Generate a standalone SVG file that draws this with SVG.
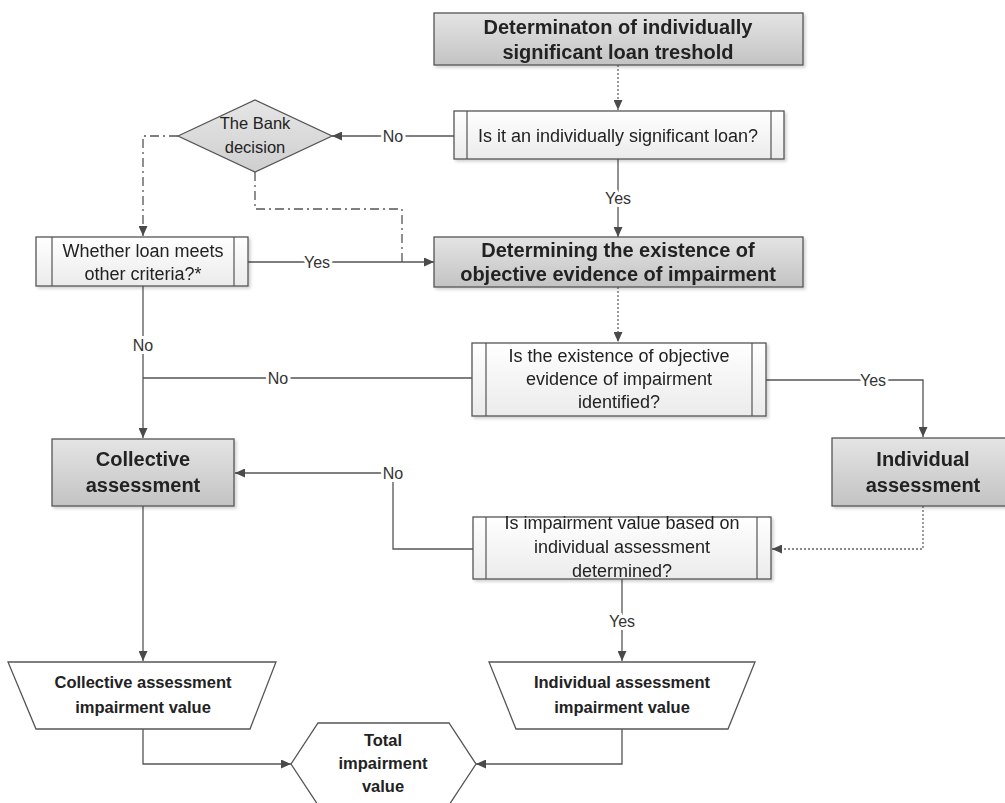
<svg xmlns="http://www.w3.org/2000/svg" width="1005" height="803" viewBox="0 0 1005 803">
<defs>
<linearGradient id="gGray" x1="0" y1="0" x2="0" y2="1"><stop offset="0" stop-color="#e4e4e4"/><stop offset="1" stop-color="#c3c3c3"/></linearGradient>
<linearGradient id="gWhite" x1="0" y1="0" x2="0" y2="1"><stop offset="0" stop-color="#ffffff"/><stop offset="1" stop-color="#ebebeb"/></linearGradient>
<linearGradient id="gDia" x1="0" y1="0" x2="0" y2="1"><stop offset="0" stop-color="#e6e6e6"/><stop offset="1" stop-color="#cfcfcf"/></linearGradient>
<filter id="sh" x="-5%" y="-10%" width="112%" height="130%"><feDropShadow dx="2" dy="2" stdDeviation="1.5" flood-color="#000" flood-opacity="0.18"/></filter>
<marker id="arr" markerUnits="userSpaceOnUse" markerWidth="11" markerHeight="9" refX="10" refY="4.5" orient="auto"><path d="M0,0 L10,4.5 L0,9 z" fill="#4a4a4a"/></marker>
</defs>
<style>
.box{stroke:#555;stroke-width:1.3}
.gray{fill:url(#gGray)}
.proc{fill:url(#gWhite)}
.inner{stroke:#555;stroke-width:1.2;fill:none}
.plain{fill:#fff;stroke:#555;stroke-width:1.3}
.t{font-family:"Liberation Sans",Arial,sans-serif;fill:#222;text-anchor:middle}
.b20{font-size:20px;font-weight:bold}
.b17{font-size:16.5px;font-weight:bold}
.r18{font-size:18px}
.r16{font-size:16.5px}
.c{fill:none;stroke:#555;stroke-width:1.3}
.dot{stroke-dasharray:2,2;stroke:#666}
.dd{stroke-dasharray:9,4,2,4}
.lab{font-family:"Liberation Sans",Arial,sans-serif;font-size:16px;fill:#333;text-anchor:middle;stroke:#fff;stroke-width:6;paint-order:stroke;stroke-linejoin:round}
</style>
<g id="connectors">
<path class="c dot" d="M618,65 V110" marker-end="url(#arr)"/>
<path class="c" d="M454,136 H332" marker-end="url(#arr)"/>
<path class="c" d="M618,159 V237" marker-end="url(#arr)"/>
<path class="c dd" d="M178,136 H143 V236" marker-end="url(#arr)"/>
<path class="c dd" d="M255,172 V209 H402 V262"/>
<path class="c" d="M248,262 H434" marker-end="url(#arr)"/>
<path class="c dot" d="M618,287 V342" marker-end="url(#arr)"/>
<path class="c" d="M143,286 V438" marker-end="url(#arr)"/>
<path class="c" d="M472,378 H143"/>
<path class="c" d="M766,380 H923 V437" marker-end="url(#arr)"/>
<path class="c dot" d="M923,506 V549 H772" marker-end="url(#arr)"/>
<path class="c" d="M473,549 H393 V473 H235" marker-end="url(#arr)"/>
<path class="c" d="M622,579 V661" marker-end="url(#arr)"/>
<path class="c" d="M143,506 V661" marker-end="url(#arr)"/>
<path class="c" d="M143,729 V764 H291" marker-end="url(#arr)"/>
<path class="c" d="M622,729 V764 H476" marker-end="url(#arr)"/>
<text class="lab" x="393" y="142">No</text>
<text class="lab" x="618" y="204">Yes</text>
<text class="lab" x="317" y="268">Yes</text>
<text class="lab" x="143" y="351">No</text>
<text class="lab" x="278" y="384">No</text>
<text class="lab" x="873" y="386">Yes</text>
<text class="lab" x="393" y="479">No</text>
<text class="lab" x="622" y="627">Yes</text>
</g>
<g id="n-threshold" filter="url(#sh)">
<rect class="box gray" x="434" y="13" width="369" height="52"/>
<text class="t b20" x="618" y="34">Determinaton of individually</text>
<text class="t b20" x="618" y="59">significant loan treshold</text>
</g>
<g id="n-significant" filter="url(#sh)">
<rect class="box proc" x="454" y="111" width="330" height="48"/>
<path class="inner" d="M467,111 V159 M771,111 V159"/>
<text class="t r18" x="618" y="142">Is it an individually significant loan?</text>
</g>
<g id="n-bank">
<polygon class="box" fill="url(#gDia)" points="178,136 255,100 332,136 255,172"/>
<text class="t r16" x="255" y="129">The Bank</text>
<text class="t r16" x="255" y="153">decision</text>
</g>
<g id="n-criteria" filter="url(#sh)">
<rect class="box proc" x="36" y="237" width="212" height="49"/>
<path class="inner" d="M52,237 V286 M234,237 V286"/>
<text class="t r18" x="143" y="257">Whether loan meets</text>
<text class="t r18" x="143" y="280">other criteria?*</text>
</g>
<g id="n-determining" filter="url(#sh)">
<rect class="box gray" x="434" y="237" width="369" height="50"/>
<text class="t b20" x="618" y="257">Determining the existence of</text>
<text class="t b20" x="618" y="281">objective evidence of impairment</text>
</g>
<g id="n-identified" filter="url(#sh)">
<rect class="box proc" x="472" y="343" width="294" height="73"/>
<path class="inner" d="M486,343 V416 M752,343 V416"/>
<text class="t r18" x="619" y="362">Is the existence of objective</text>
<text class="t r18" x="619" y="385">evidence of impairment</text>
<text class="t r18" x="619" y="408">identified?</text>
</g>
<g id="n-collective" filter="url(#sh)">
<rect class="box gray" x="52" y="439" width="182" height="67"/>
<text class="t b20" x="143" y="466">Collective</text>
<text class="t b20" x="143" y="492">assessment</text>
</g>
<g id="n-individual" filter="url(#sh)">
<rect class="box gray" x="832" y="438" width="182" height="68"/>
<text class="t b20" x="923" y="466">Individual</text>
<text class="t b20" x="923" y="492">assessment</text>
</g>
<g id="n-determined" filter="url(#sh)">
<rect class="box proc" x="473" y="517" width="298" height="62"/>
<path class="inner" d="M486,517 V579 M757,517 V579"/>
<text class="t r18" x="622" y="529">Is impairment value based on</text>
<text class="t r18" x="622" y="553">individual assessment</text>
<text class="t r18" x="622" y="577">determined?</text>
</g>
<g id="n-collective-value">
<polygon class="plain" points="8,662 276,662 250,729 36,729"/>
<text class="t b17" x="143" y="688">Collective assessment</text>
<text class="t b17" x="143" y="713">impairment value</text>
</g>
<g id="n-individual-value">
<polygon class="plain" points="489,662 755,662 728,729 516,729"/>
<text class="t b17" x="622" y="688">Individual assessment</text>
<text class="t b17" x="622" y="713">impairment value</text>
</g>
<g id="n-total">
<polygon class="plain" points="291,764 318,723 449,723 476,764 449,805 318,805"/>
<text class="t b17" x="383" y="746">Total</text>
<text class="t b17" x="383" y="769">impairment</text>
<text class="t b17" x="383" y="792">value</text>
</g>
</svg>
